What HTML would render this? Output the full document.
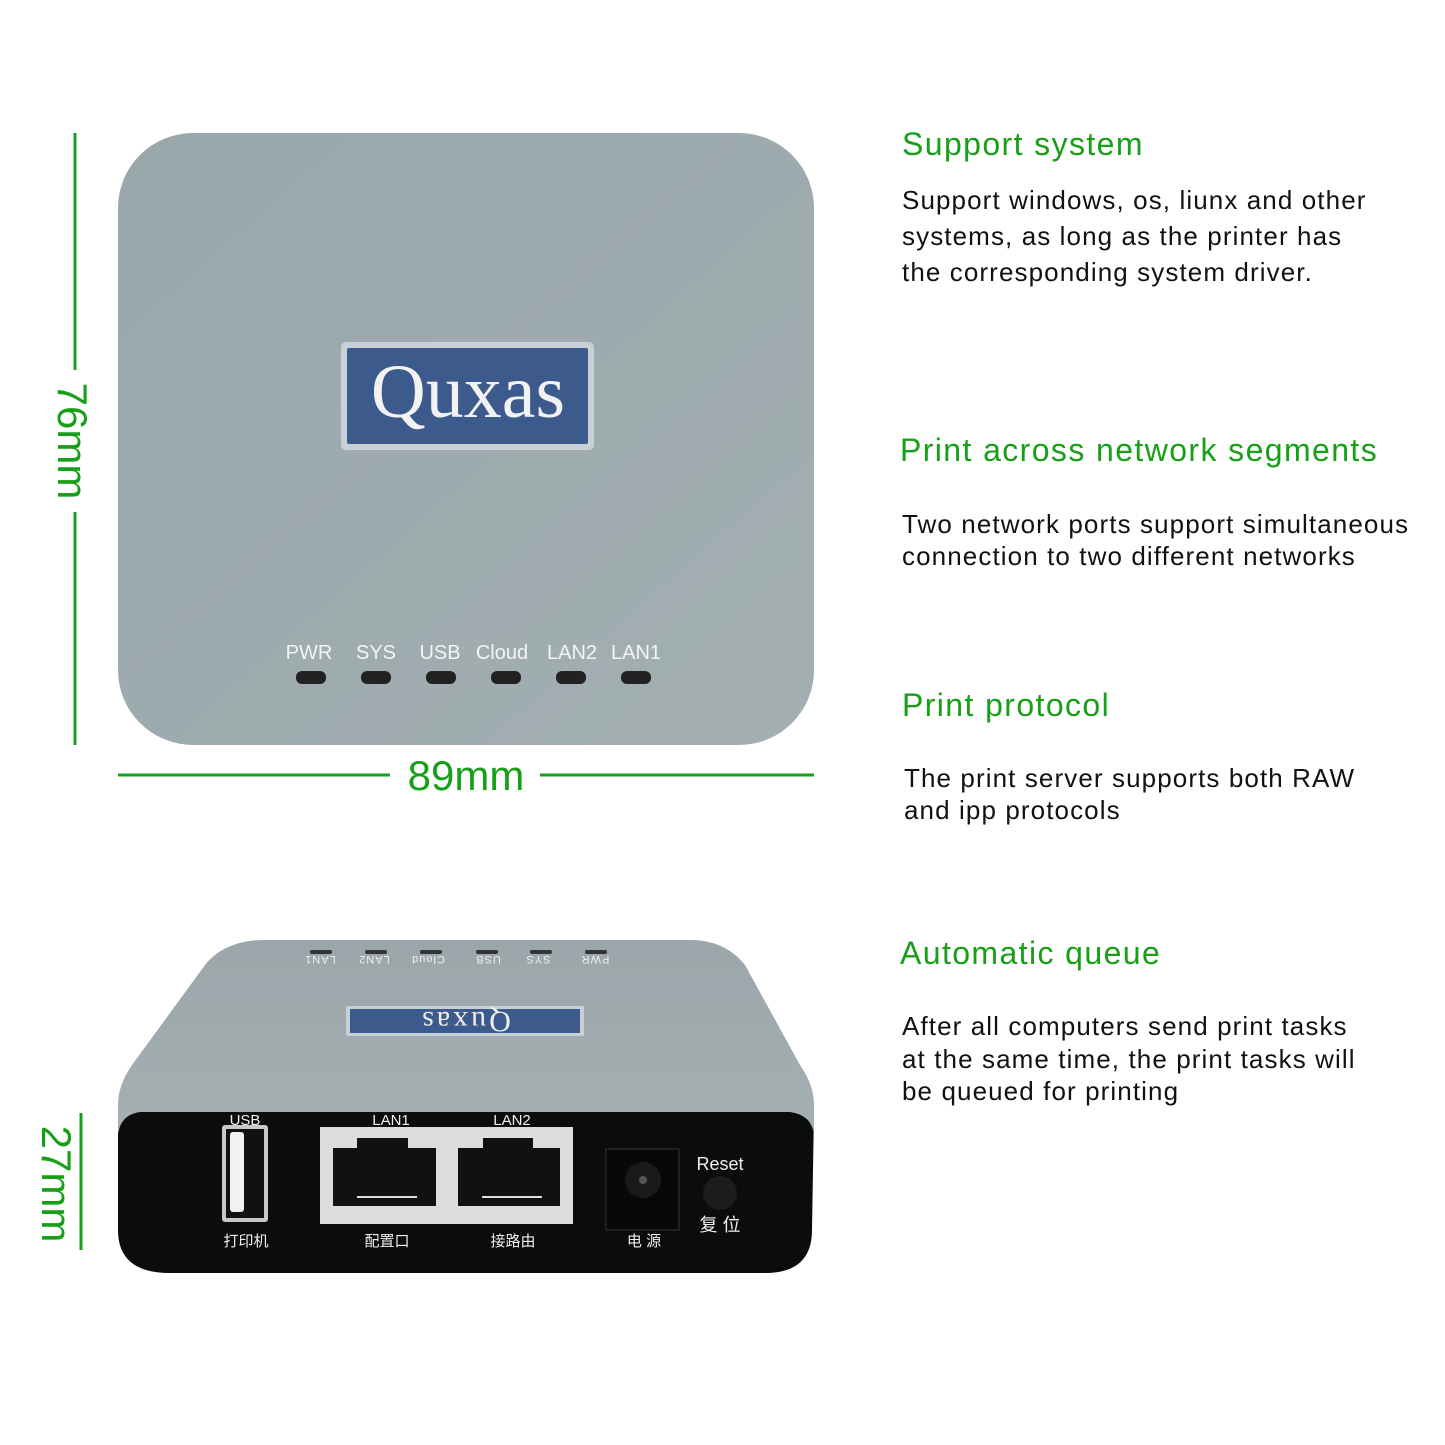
<!DOCTYPE html>
<html><head><meta charset="utf-8"><style>
html,body{margin:0;padding:0;background:#fff;}
body{width:1445px;height:1445px;position:relative;overflow:hidden;font-family:"Liberation Sans","Noto Sans CJK SC",sans-serif;}
.h{position:absolute;left:902px;color:#17a017;font-size:32px;white-space:nowrap;letter-spacing:1.4px;}
.p{position:absolute;left:902px;color:#111;font-size:26px;line-height:36px;white-space:nowrap;letter-spacing:1.1px;}
</style></head><body>
<svg width="1445" height="1445" style="position:absolute;left:0;top:0">
<defs>
<linearGradient id="g1" x1="0" y1="0" x2="1" y2="1">
<stop offset="0" stop-color="#99a7ab"/><stop offset="1" stop-color="#a3afb1"/></linearGradient>
<linearGradient id="g2" x1="0" y1="0" x2="0" y2="1">
<stop offset="0" stop-color="#9aa6a9"/><stop offset="1" stop-color="#a4b0b2"/></linearGradient>
</defs>
<rect x="118" y="133" width="696" height="612" rx="75" fill="url(#g1)"/>
<rect x="341" y="342" width="253" height="108" rx="5" fill="#c9d0d6"/>
<rect x="347" y="348" width="241" height="96" rx="2" fill="#3c5a8c"/>
<text x="468" y="417" text-anchor="middle" font-family="Liberation Serif,serif" font-size="76" fill="#f2f2f2">Quxas</text>
<g font-size="20" fill="#f4f4f4" text-anchor="middle">
<text x="309" y="659">PWR</text><text x="376" y="659">SYS</text><text x="440" y="659">USB</text>
<text x="502" y="659">Cloud</text><text x="572" y="659">LAN2</text><text x="636" y="659">LAN1</text></g>
<g fill="#222">
<rect x="296" y="671" width="30" height="13" rx="6"/><rect x="361" y="671" width="30" height="13" rx="6"/>
<rect x="426" y="671" width="30" height="13" rx="6"/><rect x="491" y="671" width="30" height="13" rx="6"/>
<rect x="556" y="671" width="30" height="13" rx="6"/><rect x="621" y="671" width="30" height="13" rx="6"/></g>
<g stroke="#17a017" stroke-width="3">
<line x1="75" y1="133" x2="75" y2="370"/><line x1="75" y1="512" x2="75" y2="745"/>
<line x1="118" y1="775" x2="390" y2="775"/><line x1="540" y1="775" x2="814" y2="775"/>
<line x1="81" y1="1113" x2="81" y2="1250"/></g>
<text x="466" y="790" text-anchor="middle" font-size="42" fill="#17a017">89mm</text>
<text transform="translate(58,441) rotate(90)" text-anchor="middle" font-size="42" fill="#17a017">76mm</text>
<text transform="translate(42,1184) rotate(90)" text-anchor="middle" font-size="42" fill="#17a017">27mm</text>
<path d="M118 1110 L118 1230 Q118 1273 170 1273 L765 1273 Q812 1273 812 1230 L814 1110 Z" fill="#0c0c0c"/>
<path d="M118 1135 L118 1105 Q118 1085 132 1065 L205 965 Q225 940 265 940 L690 940 Q725 940 745 965 L800 1065 Q814 1085 814 1105 L814 1135 Q812 1115 790 1112 L140 1112 Q120 1115 118 1135 Z" fill="url(#g2)"/>
<g font-size="11" fill="#f0f0f0" text-anchor="middle" letter-spacing="1">
<text transform="translate(595,956) rotate(180)">PWR</text><text transform="translate(538,956) rotate(180)">SYS</text>
<text transform="translate(488,956) rotate(180)">USB</text><text transform="translate(428,956) rotate(180)">Cloud</text>
<text transform="translate(374,956) rotate(180)">LAN2</text><text transform="translate(320,956) rotate(180)">LAN1</text></g>
<g fill="#333"><rect x="310" y="950" width="22" height="4" rx="2"/><rect x="365" y="950" width="22" height="4" rx="2"/><rect x="420" y="950" width="22" height="4" rx="2"/><rect x="476" y="950" width="22" height="4" rx="2"/><rect x="530" y="950" width="22" height="4" rx="2"/><rect x="585" y="950" width="22" height="4" rx="2"/></g>
<rect x="346" y="1006" width="238" height="30" rx="2" fill="#c9d0d6"/>
<rect x="350" y="1009" width="230" height="24" fill="#3c5a8c"/>
<text transform="translate(465,1012) rotate(180)" text-anchor="middle" font-family="Liberation Serif,serif" font-size="30" fill="#eee" letter-spacing="3">Quxas</text>
<rect x="222" y="1125" width="46" height="97" rx="3" fill="#c8c8c8"/>
<rect x="226" y="1129" width="38" height="89" fill="#111"/>
<rect x="230" y="1132" width="14" height="80" rx="3" fill="#f2f2f2"/>
<rect x="320" y="1127" width="253" height="97" fill="#dcdcdc"/>
<path d="M333 1206 L333 1148 L357 1148 L357 1138 L408 1138 L408 1148 L436 1148 L436 1206 Z" fill="#111"/>
<path d="M458 1206 L458 1148 L483 1148 L483 1138 L533 1138 L533 1148 L560 1148 L560 1206 Z" fill="#111"/>
<g fill="#ddd"><rect x="357" y="1196" width="60" height="2"/><rect x="482" y="1196" width="60" height="2"/></g>
<rect x="606" y="1149" width="73" height="81" fill="#080808" stroke="#333"/>
<circle cx="643" cy="1180" r="18" fill="#1a1a1a"/><circle cx="643" cy="1180" r="4" fill="#555"/>
<circle cx="720" cy="1193" r="17" fill="#1c1c1c"/>
<g fill="#f0f0f0" text-anchor="middle" font-size="15">
<text x="245" y="1125">USB</text><text x="391" y="1125">LAN1</text><text x="512" y="1125">LAN2</text>
<text x="246" y="1246">打印机</text><text x="387" y="1246">配置口</text><text x="513" y="1246">接路由</text>
<text x="644" y="1246">电 源</text><text x="720" y="1170" font-size="18">Reset</text><text x="720" y="1231" font-size="18">复 位</text></g>
</svg>
<div class="h" style="top:126px">Support system</div>
<div class="p" style="top:182px">Support windows, os, liunx and other<br>systems, as long as the printer has<br>the corresponding system driver.</div>
<div class="h" style="top:432px;left:900px">Print across network segments</div>
<div class="p" style="top:508px;line-height:32px">Two network ports support simultaneous<br>connection to two different networks</div>
<div class="h" style="top:687px">Print protocol</div>
<div class="p" style="top:762px;left:904px;line-height:32px">The print server supports both RAW<br>and ipp protocols</div>
<div class="h" style="top:935px;left:900px">Automatic queue</div>
<div class="p" style="top:1010px;line-height:32.5px">After all computers send print tasks<br>at the same time, the print tasks will<br>be queued for printing</div>
</body></html>
